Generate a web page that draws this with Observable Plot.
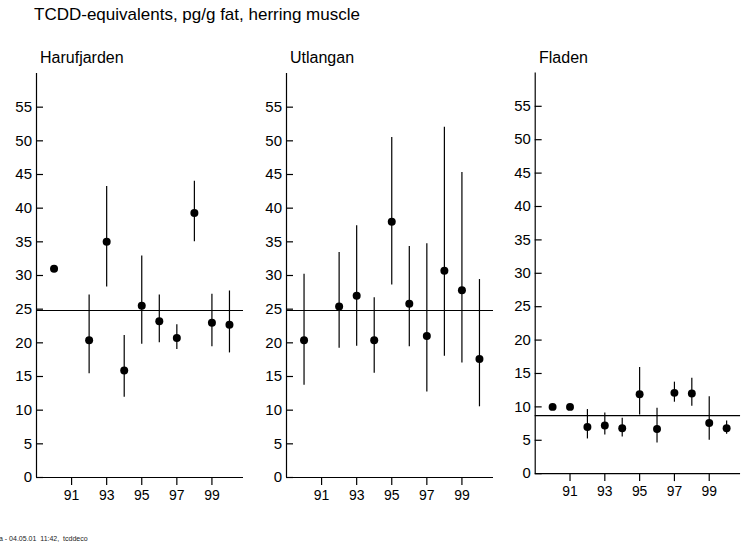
<!DOCTYPE html>
<html>
<head>
<meta charset="utf-8">
<script src="https://cdn.jsdelivr.net/npm/d3@7"></script>
<script src="https://cdn.jsdelivr.net/npm/@observablehq/plot@0.6"></script>
<style>
  html, body { margin: 0; padding: 0; background: #fff; }
  #wrap { position: relative; width: 747px; height: 546px; overflow: hidden; font-family: "Liberation Sans", Arial, Helvetica, sans-serif; color: #000; }
  .title { position: absolute; left: 34px; top: 6px; font-size: 17px; line-height: 1; white-space: nowrap; }
  .ptitle { position: absolute; top: 50px; font-size: 16px; line-height: 1; white-space: nowrap; }
  .panel { position: absolute; top: 0; }
  .foot { position: absolute; left: -1px; top: 535px; font-size: 7px; line-height: 1; white-space: pre; color: #222; }
</style>
</head>
<body>
<div id="wrap"></div>
<script>
const mainTitle = "TCDD-equivalents, pg/g fat, herring muscle";
const footer = "a - 04.05.01  11:42,  tcddeco";
const sites = ["Harufjarden", "Utlangan", "Fladen"];
const years = [1990, 1991, 1992, 1993, 1994, 1995, 1996, 1997, 1998, 1999, 2000];
const xTicks = [1991, 1993, 1995, 1997, 1999];
const yTicks = [0, 5, 10, 15, 20, 25, 30, 35, 40, 45, 50, 55];
const xDomain = [1989, 2000.8];
const yDomain = [0, 60];

const haruValue = [31.0, null, 20.4, 35.0, 15.9, 25.5, 23.2, 20.7, 39.3, 23.0, 22.7];
const haruLow   = [null, null, 15.4, 28.3, 11.9, 19.8, 20.0, 19.0, 35.0, 19.4, 18.5];
const haruHigh  = [null, null, 27.1, 43.2, 21.1, 32.9, 27.1, 22.7, 44.0, 27.2, 27.7];
const haruMean  = 24.8;

const utlaValue = [20.4, null, 25.4, 27.0, 20.4, 38.0, 25.8, 21.0, 30.7, 27.8, 17.6];
const utlaLow   = [13.7, null, 19.2, 19.5, 15.5, 28.6, 19.4, 12.7, 18.0, 17.0, 10.5];
const utlaHigh  = [30.2, null, 33.4, 37.4, 26.7, 50.5, 34.3, 34.7, 52.0, 45.3, 29.4];
const utlaMean  = 24.8;

const fladValue = [10.0, 10.0, 7.0, 7.2, 6.8, 11.9, 6.7, 12.1, 12.0, 7.6, 6.8];
const fladLow   = [null, null, 5.2, 5.8, 5.5, 8.8, 4.6, 10.7, 10.1, 5.0, 5.9];
const fladHigh  = [null, null, 9.6, 9.1, 8.3, 15.9, 9.8, 13.7, 14.3, 11.5, 7.9];
const fladMean  = 8.7;

const series = [
  {value: haruValue, low: haruLow, high: haruHigh, mean: haruMean},
  {value: utlaValue, low: utlaLow, high: utlaHigh, mean: utlaMean},
  {value: fladValue, low: fladLow, high: fladHigh, mean: fladMean}
];
const panelLefts = [0, 250, 499];

const W = 250, H = 507, ML = 36, MR = 7, MT = 73, MB = 30;
const frameW = W - ML - MR, frameH = H - MT - MB;

const wrap = document.getElementById("wrap");
const t = document.createElement("div");
t.className = "title"; t.textContent = mainTitle; wrap.appendChild(t);

sites.forEach((name, i) => {
  const s = series[i];
  const rows = years.map((yr, j) => ({year: yr, value: s.value[j], low: s.low[j], high: s.high[j]}));
  const pts = rows.filter(d => d.value != null);
  const bars = rows.filter(d => d.low != null && d.high != null);
  const chart = Plot.plot({
    width: W,
    height: H,
    marginLeft: ML,
    marginRight: MR,
    marginTop: MT,
    marginBottom: MB,
    style: {fontFamily: '"Liberation Sans", Arial, sans-serif', fontSize: "14px", color: "#000", background: "transparent", overflow: "visible"},
    x: {domain: xDomain},
    y: {domain: yDomain},
    marks: [
      Plot.axisY({ticks: yTicks, tickSize: 0, tickPadding: 4.5, fontSize: 15, label: null}),
      Plot.axisX({ticks: xTicks, tickSize: 0, tickPadding: 13, fontSize: 14, label: null, tickFormat: d => String(d % 100).padStart(2, "0")}),
      Plot.tickY(yTicks, {y: d => d, stroke: "#000", strokeWidth: 1.2, insetRight: frameW - 7}),
      Plot.tickX(xTicks, {x: d => d, stroke: "#000", strokeWidth: 1.2, insetTop: frameH, insetBottom: -8}),
      Plot.ruleX([xDomain[0]], {stroke: "#000", strokeWidth: 1.2}),
      Plot.ruleY([yDomain[0]], {stroke: "#000", strokeWidth: 1.2}),
      Plot.ruleY([s.mean], {stroke: "#000", strokeWidth: 1.2}),
      Plot.ruleX(bars, {x: "year", y1: "low", y2: "high", stroke: "#000", strokeWidth: 1.2}),
      Plot.dot(pts, {x: "year", y: "value", r: 4, fill: "#000", stroke: "none"})
    ]
  });
  const div = document.createElement("div");
  div.className = "panel";
  div.style.left = panelLefts[i] + "px";
  div.appendChild(chart);
  wrap.appendChild(div);
  const pt = document.createElement("div");
  pt.className = "ptitle";
  pt.style.left = (panelLefts[i] + 40) + "px";
  pt.textContent = name;
  wrap.appendChild(pt);
});

const f = document.createElement("div");
f.className = "foot"; f.textContent = footer; wrap.appendChild(f);
</script>
</body>
</html>
